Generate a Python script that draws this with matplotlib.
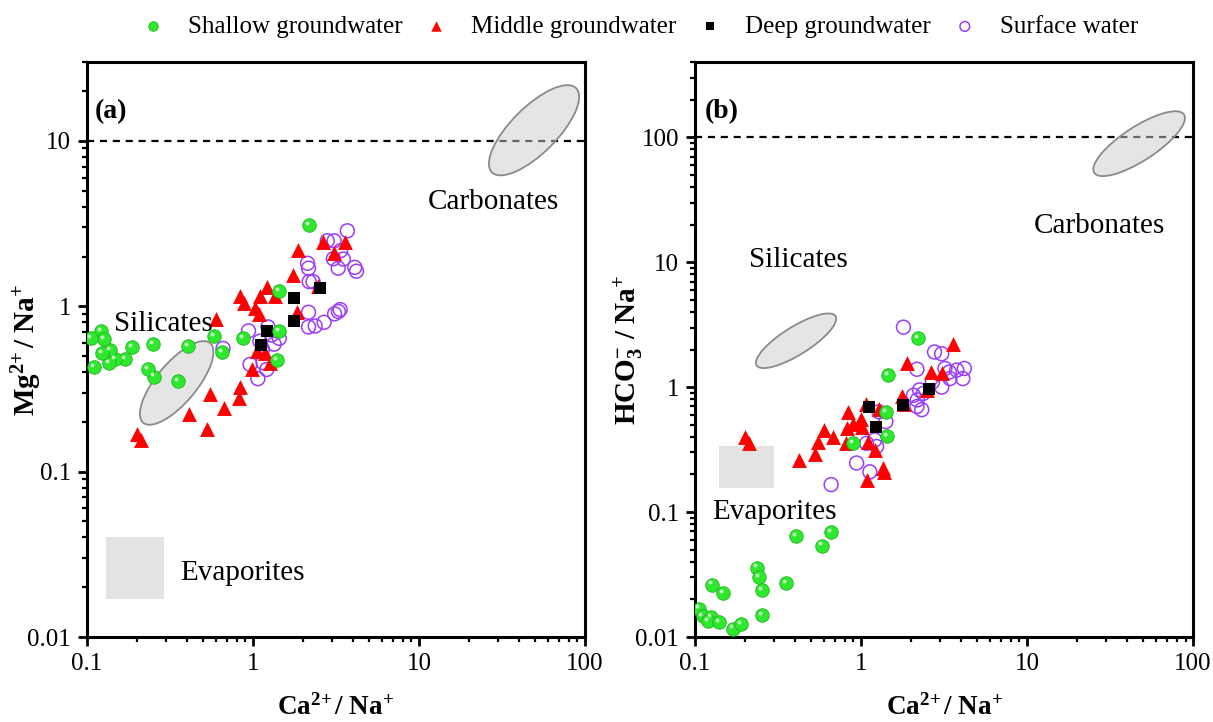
import matplotlib
matplotlib.use('Agg')
import matplotlib.pyplot as plt
import matplotlib.patches as mpatches
from matplotlib.transforms import ScaledTranslation
from matplotlib.ticker import FuncFormatter, NullFormatter, LogLocator

# ---- data ----
# panel (a): Ca/Na vs Mg/Na
shallow_a_x = [2.17, 1.44, 1.43, 1.40, 0.875, 0.653, 0.582, 0.404, 0.353, 0.251, 0.253,
               0.234, 0.188, 0.17, 0.147, 0.138, 0.136, 0.123, 0.121, 0.126, 0.106, 0.111]
shallow_a_y = [3.08, 1.24, 0.71, 0.475, 0.64, 0.53, 0.66, 0.574, 0.352, 0.588, 0.376,
               0.42, 0.568, 0.48, 0.48, 0.545, 0.454, 0.523, 0.71, 0.635, 0.644, 0.43]
middle_a_x = [1.87, 2.63, 3.6, 3.08, 1.75, 2.45, 1.83, 1.21, 1.10, 1.36, 0.83, 0.88, 1.03, 1.08,
              0.6, 1.05, 1.18, 1.26, 0.99, 0.83, 0.82, 0.55, 0.67, 0.41, 0.53, 0.2, 0.213]
middle_a_y = [2.2, 2.44, 2.46, 2.1, 1.55, 1.32, 0.92, 1.31, 1.15, 1.15, 1.16, 1.05, 0.98, 0.90,
              0.84, 0.54, 0.52, 0.456, 0.415, 0.327, 0.278, 0.296, 0.242, 0.223, 0.18, 0.169, 0.155]
deep_a_x = [1.77, 2.54, 1.77, 1.22, 1.11]
deep_a_y = [1.13, 1.29, 0.81, 0.71, 0.58]
surface_a_x = [3.7, 3.08, 2.8, 3.37, 3.5, 3.05, 3.26, 4.1, 4.2, 2.13, 2.16, 2.18, 2.3, 2.16, 2.16, 2.37,
               2.68, 3.1, 3.27, 3.35, 0.94, 0.66, 1.23, 1.29, 1.44, 1.34, 1.14, 0.96, 1.15, 1.21, 1.07, 1.1]
surface_a_y = [2.86, 2.49, 2.49, 2.17, 1.93, 1.94, 1.7, 1.72, 1.63, 1.82, 1.7, 1.41, 1.41, 0.92, 0.75, 0.76,
               0.80, 0.9, 0.93, 0.955, 0.71, 0.556, 0.75, 0.67, 0.64, 0.59, 0.55, 0.445, 0.456, 0.415, 0.365, 0.615]

# panel (b): Ca/Na vs HCO3/Na
shallow_b_x = [2.19, 1.46, 1.42, 1.44, 0.89, 0.66, 0.58, 0.406, 0.353, 0.235, 0.243,
               0.252, 0.254, 0.127, 0.147, 0.106, 0.111, 0.125, 0.12, 0.14, 0.17, 0.189]
shallow_b_y = [2.47, 1.26, 0.635, 0.407, 0.355, 0.069, 0.054, 0.064, 0.027, 0.036, 0.030,
               0.0237, 0.015, 0.0263, 0.0226, 0.0169, 0.0148, 0.0145, 0.0134, 0.0132, 0.0117, 0.0128]
middle_b_x = [3.6, 1.88, 2.62, 3.09, 2.49, 1.76, 1.82, 1.07, 1.28, 0.83, 1.0, 0.89, 1.02, 0.82,
              0.6, 0.68, 0.55, 0.81, 1.1, 1.21, 0.53, 0.42, 1.35, 1.38, 1.08, 0.2, 0.21]
middle_b_y = [2.23, 1.56, 1.32, 1.3, 0.95, 0.85, 0.73, 0.73, 0.67, 0.63, 0.56, 0.51, 0.48, 0.47,
              0.454, 0.40, 0.367, 0.355, 0.367, 0.315, 0.29, 0.26, 0.225, 0.208, 0.18, 0.40, 0.355]
deep_b_x = [2.57, 1.78, 1.11, 1.23]
deep_b_y = [0.96, 0.72, 0.69, 0.48]
surface_b_x = [1.8, 2.77, 3.06, 2.17, 3.2, 3.77, 4.19, 4.1, 3.4, 3.43, 2.69, 3.06, 2.25, 2.37, 2.07,
               2.18, 2.17, 2.32, 1.41, 1.28, 1.21, 1.08, 1.24, 0.94, 1.13, 0.66]
surface_b_y = [3.02, 1.91, 1.85, 1.39, 1.41, 1.37, 1.41, 1.17, 1.32, 1.17, 1.1, 1.0, 0.95, 0.89, 0.86,
               0.79, 0.70, 0.66, 0.53, 0.635, 0.378, 0.355, 0.335, 0.247, 0.21, 0.166]

labels = ['Shallow groundwater', 'Middle groundwater', 'Deep groundwater', 'Surface water']

# ---- style ----
plt.rcParams['font.family'] = 'Liberation Serif'
plt.rcParams['mathtext.fontset'] = 'custom'
plt.rcParams['mathtext.rm'] = 'Liberation Serif'
plt.rcParams['mathtext.it'] = 'Liberation Serif:italic'
plt.rcParams['mathtext.bf'] = 'Liberation Serif:bold'
plt.rcParams['mathtext.default'] = 'regular'

green = '#2ee82e'
red = '#ff0000'
purple = '#9a3cff'

fig = plt.figure(figsize=(12.13, 7.22), dpi=100)
ax1 = fig.add_axes([0.0717, 0.1177, 0.4106, 0.7964])
ax2 = fig.add_axes([0.573, 0.1177, 0.4106, 0.7964])


def blob(ax, cx, cy, w, h, ang):
    # ellipse sized in inches, centred on a data point
    tr = fig.dpi_scale_trans + ScaledTranslation(cx, cy, ax.transData)
    e = mpatches.Ellipse((0, 0), w, h, angle=ang, transform=tr,
                         facecolor=(0.8, 0.8, 0.8, 0.5), edgecolor='#8a8a8a', lw=1.3, zorder=3)
    ax.add_patch(e)


def scatter_all(ax, sx, sy, mx, my, dx, dy, wx, wy):
    h4 = ax.scatter(wx, wy, s=100, marker='o', facecolors='none', edgecolors=purple,
                    linewidths=1.1, zorder=4)
    h2 = ax.scatter(mx, my, s=115, marker='^', color=red, linewidths=0, zorder=5)
    h3 = ax.scatter(dx, dy, s=70, marker='s', color='black', linewidths=0, zorder=6)
    h1 = ax.scatter(sx, sy, s=95, marker='o', color=green, edgecolors='#1fb21f',
                    linewidths=0.6, zorder=7)
    # little highlight so the green dots look like balls
    off = ax.transData + ScaledTranslation(-1.5 / 72, 1.5 / 72, fig.dpi_scale_trans)
    ax.scatter(sx, sy, s=8, marker='o', color='white', alpha=0.7, linewidths=0,
               zorder=8, transform=off)
    return [h1, h2, h3, h4]


def style(ax, ytop):
    ax.set_xscale('log')
    ax.set_yscale('log')
    ax.set_xlim(0.1, 100)
    ax.set_ylim(0.01, ytop)
    for a in (ax.xaxis, ax.yaxis):
        a.set_major_locator(LogLocator(base=10))
        a.set_minor_locator(LogLocator(base=10, subs=range(2, 10)))
        a.set_major_formatter(FuncFormatter(lambda v, p: '%g' % v))
        a.set_minor_formatter(NullFormatter())
    ax.tick_params(which='major', direction='out', length=6.5, width=2, labelsize=18,
                   top=False, right=False, pad=5)
    ax.tick_params(which='minor', direction='out', length=3.8, width=1.6, top=False, right=False)
    for sp in ax.spines.values():
        sp.set_linewidth(2.2)
    ax.set_xlabel(r'Ca$^{2\!+}$/ Na$^{+}$', fontsize=19.5, fontweight='bold')
    ax.xaxis.set_label_coords(0.5, -0.1)


# ---- panel (a) ----
style(ax1, 30)
ax1.add_patch(mpatches.Rectangle((0.13, 0.017), 0.29 - 0.13, 0.04 - 0.017,
                                 facecolor='#e3e3e3', edgecolor='none', zorder=2))
ax1.axhline(10, color='black', lw=1.6, ls=(0, (3.2, 2.6)), zorder=2)
blob(ax1, 49.3, 11.6, 1.19, 0.46, 45)
blob(ax1, 0.347, 0.344, 1.04, 0.40, 50)
hs = scatter_all(ax1, shallow_a_x, shallow_a_y, middle_a_x, middle_a_y,
                 deep_a_x, deep_a_y, surface_a_x, surface_a_y)
ax1.text(0.815, 0.744, 'Carbonates', transform=ax1.transAxes, fontsize=21,
         ha='center', va='baseline')
ax1.text(0.153, 0.532, 'Silicates', transform=ax1.transAxes, fontsize=21,
         ha='center', va='baseline', zorder=9)
ax1.text(0.187, 0.099, 'Evaporites', transform=ax1.transAxes, fontsize=21,
         ha='left', va='baseline')
ax1.text(0.015, 0.914, '(a)', transform=ax1.transAxes, fontsize=20, fontweight='bold',
         ha='left', va='center')
ax1.set_ylabel(r'Mg$^{2\!+}$/ Na$^{+}$', fontsize=21, fontweight='bold')
ax1.yaxis.set_label_coords(-0.086, 0.5)

# ---- panel (b) ----
style(ax2, 400)
ax2.add_patch(mpatches.Rectangle((0.14, 0.157), 0.30 - 0.14, 0.34 - 0.157,
                                 facecolor='#e3e3e3', edgecolor='none', zorder=2))
ax2.axhline(100, color='black', lw=1.6, ls=(0, (3.2, 2.6)), zorder=2)
blob(ax2, 47.3, 88.8, 1.07, 0.34, 33)
blob(ax2, 0.406, 2.35, 0.93, 0.28, 32)
scatter_all(ax2, shallow_b_x, shallow_b_y, middle_b_x, middle_b_y,
            deep_b_x, deep_b_y, surface_b_x, surface_b_y)
ax2.text(0.811, 0.703, 'Carbonates', transform=ax2.transAxes, fontsize=21,
         ha='center', va='baseline')
ax2.text(0.108, 0.644, 'Silicates', transform=ax2.transAxes, fontsize=21,
         ha='left', va='baseline')
ax2.text(0.035, 0.206, 'Evaporites', transform=ax2.transAxes, fontsize=21,
         ha='left', va='baseline')
ax2.text(0.02, 0.914, '(b)', transform=ax2.transAxes, fontsize=20, fontweight='bold',
         ha='left', va='center')
ax2.set_ylabel(r'HCO$_3^{-}$ / Na$^{+}$', fontsize=21, fontweight='bold')
ax2.yaxis.set_label_coords(-0.1, 0.5)

fig.legend(hs, labels, loc='center', bbox_to_anchor=(0.527, 0.963), ncol=4, frameon=False,
           fontsize=18, markerscale=0.7, handlelength=1.0, handletextpad=0.9,
           columnspacing=0.85, borderaxespad=0)

fig.savefig('out.png', dpi=100)
